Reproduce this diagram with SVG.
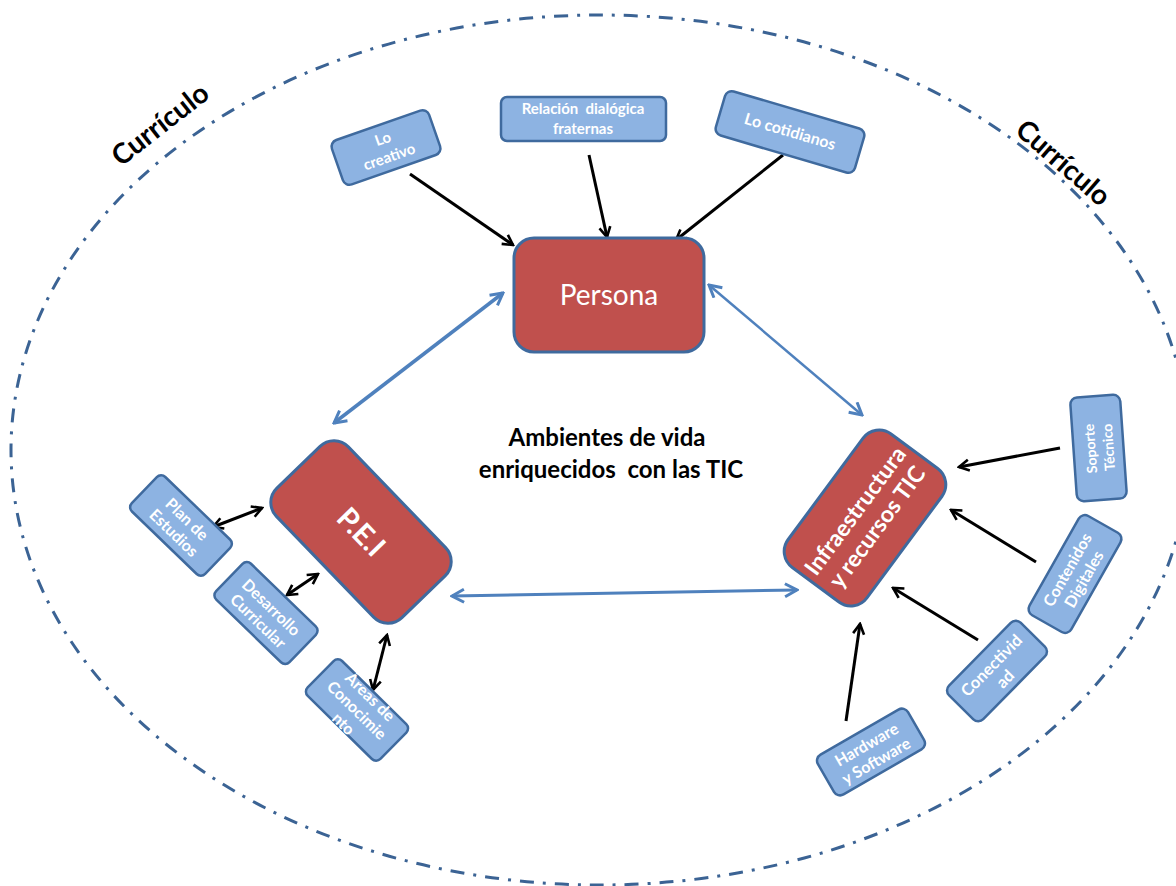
<svg xmlns="http://www.w3.org/2000/svg" width="1176" height="886" viewBox="0 0 1176 886">
<style>
.bg{fill:#ffffff}
.curr{fill:none;stroke:#3b6394;stroke-width:3;stroke-dasharray:14 9 3 9}
.main{fill:#C0504D;stroke:#3F6A9E;stroke-width:3}
.sub{fill:#8DB3E2;stroke:#3F6A9E;stroke-width:2.5}
.mt{font-family:Lato,"Open Sans",sans-serif;fill:#ffffff;text-anchor:middle}
.st{font-family:Lato,"Open Sans",sans-serif;fill:#ffffff;text-anchor:middle;font-weight:bold;font-size:15px}
.blk{fill:none;stroke:#000;stroke-width:3}
.blu{fill:none;stroke:#4F81BD;stroke-width:3.5}
.lbl{font-family:Lato,"Open Sans",sans-serif;fill:#000;text-anchor:middle;font-weight:bold}
</style>
<defs>
<marker id="ak" viewBox="0 0 14 14" refX="12" refY="7" markerWidth="14" markerHeight="14" markerUnits="userSpaceOnUse" orient="auto-start-reverse"><path d="M2,1.5 L12,7 L2,12.5" fill="none" stroke="#000" stroke-width="2.6"/></marker>
<marker id="ab" viewBox="0 0 16 16" refX="14" refY="8" markerWidth="16" markerHeight="16" markerUnits="userSpaceOnUse" orient="auto-start-reverse"><path d="M2,1.5 L14,8 L2,14.5" fill="none" stroke="#4F81BD" stroke-width="3"/></marker>
</defs>
<rect class="bg" x="0" y="0" width="1176" height="886"/>
<ellipse id="curriculo-boundary" class="curr" cx="600" cy="450" rx="589" ry="435"/>
<text class="lbl" font-size="28" transform="translate(166,132) rotate(-38)">Currículo</text>
<text class="lbl" font-size="28" transform="translate(1057,170) rotate(41)">Currículo</text>

<g id="connectors">
<line class="blk" x1="410" y1="174" x2="513" y2="245" marker-end="url(#ak)"/>
<line class="blk" x1="589" y1="155" x2="607" y2="237" marker-end="url(#ak)"/>
<line class="blk" x1="783" y1="155" x2="676" y2="240" marker-end="url(#ak)"/>
<line class="blu" x1="503" y1="293" x2="334" y2="423" marker-start="url(#ab)" marker-end="url(#ab)"/>
<line class="blu" style="stroke-width:2.5" x1="709" y1="285" x2="862" y2="415" marker-start="url(#ab)" marker-end="url(#ab)"/>
<line class="blu" style="stroke-width:3" x1="452" y1="596" x2="797" y2="590" marker-start="url(#ab)" marker-end="url(#ab)"/>
<line class="blk" x1="213" y1="527" x2="262" y2="508" marker-start="url(#ak)" marker-end="url(#ak)"/>
<line class="blk" x1="287" y1="595" x2="318" y2="574" marker-start="url(#ak)" marker-end="url(#ak)"/>
<line class="blk" x1="387" y1="635" x2="373" y2="690" marker-start="url(#ak)" marker-end="url(#ak)"/>
<line class="blk" x1="1060" y1="448" x2="959" y2="467" marker-end="url(#ak)"/>
<line class="blk" x1="1036" y1="562" x2="951" y2="510" marker-end="url(#ak)"/>
<line class="blk" x1="978" y1="640" x2="893" y2="588" marker-end="url(#ak)"/>
<line class="blk" x1="846" y1="721" x2="860" y2="624" marker-end="url(#ak)"/>
</g>

<g id="persona">
<rect class="main" x="514" y="238" width="190" height="114" rx="20"/>
<text class="mt" x="609" y="305" font-size="28">Persona</text>
</g>

<g id="pei" transform="translate(361,532) rotate(46)">
<rect class="main" x="-90" y="-50" width="180" height="100" rx="20"/>
<text class="mt" x="0" y="10" font-size="29" font-weight="bold">P.E.I</text>
</g>

<g id="infra" transform="translate(865,518) rotate(-53.5)">
<rect class="main" x="-83" y="-49" width="166" height="98" rx="20"/>
<text class="mt" x="0" y="-4" font-size="23" font-weight="bold">Infraestructura</text>
<text class="mt" x="0" y="23" font-size="23" font-weight="bold">y recursos TIC</text>
</g>

<g id="ambientes">
<text class="lbl" x="607" y="446" font-size="24">Ambientes de vida</text>
<text class="lbl" x="611" y="478" font-size="24" xml:space="preserve">enriquecidos  con las TIC</text>
</g>

<g id="lo-creativo" transform="translate(386,147.5) rotate(-19.3)">
<rect class="sub" x="-51.5" y="-23.5" width="103" height="47" rx="7"/>
<text class="st" x="0" y="-4">Lo</text>
<text class="st" x="0" y="15">creativo</text>
</g>

<g id="relacion">
<rect class="sub" x="501" y="97" width="165" height="44" rx="6"/>
<text class="st" x="583" y="114" xml:space="preserve">Relación  dialógica</text>
<text class="st" x="583" y="134">fraternas</text>
</g>

<g id="lo-cotidianos" transform="translate(790,132) rotate(16.4)">
<rect class="sub" x="-72.5" y="-23" width="145" height="46" rx="7"/>
<text class="st" x="0" y="5" style="font-size:16px">Lo cotidianos</text>
</g>

<g id="plan-estudios" transform="translate(181,525.5) rotate(44)">
<rect class="sub" x="-51" y="-24" width="102" height="48" rx="6"/>
<text class="st" x="0" y="-3" style="font-size:16px">Plan de</text>
<text class="st" x="0" y="16" style="font-size:16px">Estudios</text>
</g>

<g id="desarrollo" transform="translate(266,613) rotate(44)">
<rect class="sub" x="-51" y="-25" width="102" height="50" rx="6"/>
<text class="st" x="0" y="-2" style="font-size:16px">Desarrollo</text>
<text class="st" x="0" y="17" style="font-size:16px">Curricular</text>
</g>

<g id="areas" transform="translate(357,710) rotate(44.5)">
<rect class="sub" x="-51" y="-24.5" width="102" height="49" rx="6"/>
<text class="st" x="0" y="-13" style="font-size:16px">Áreas de</text>
<text class="st" x="0" y="6" style="font-size:16px">Conocimie</text>
<text class="st" x="0" y="25" style="font-size:16px">nto</text>
</g>

<g id="soporte" transform="translate(1098.5,448) rotate(-94)">
<rect class="sub" x="-52" y="-25" width="104" height="50" rx="7"/>
<text class="st" x="0" y="-3" style="font-size:14px">Soporte</text>
<text class="st" x="0" y="15" style="font-size:14px">Técnico</text>
</g>

<g id="contenidos" transform="translate(1075,574) rotate(-60.5)">
<rect class="sub" x="-57" y="-24" width="114" height="48" rx="7"/>
<text class="st" x="0" y="-3" style="font-size:16px">Contenidos</text>
<text class="st" x="0" y="16" style="font-size:16px">Digitales</text>
</g>

<g id="conectividad" transform="translate(997,671) rotate(-45.5)">
<rect class="sub" x="-51" y="-24" width="102" height="48" rx="7"/>
<text class="st" x="0" y="-2" style="font-size:16.5px">Conectivid</text>
<text class="st" x="0" y="17" style="font-size:16.5px">ad</text>
</g>

<g id="hardware" transform="translate(871,752) rotate(-30)">
<rect class="sub" x="-52" y="-23" width="104" height="46" rx="7"/>
<text class="st" x="0" y="-3" style="font-size:16px">Hardware</text>
<text class="st" x="0" y="16" style="font-size:16px">y Software</text>
</g>
</svg>
